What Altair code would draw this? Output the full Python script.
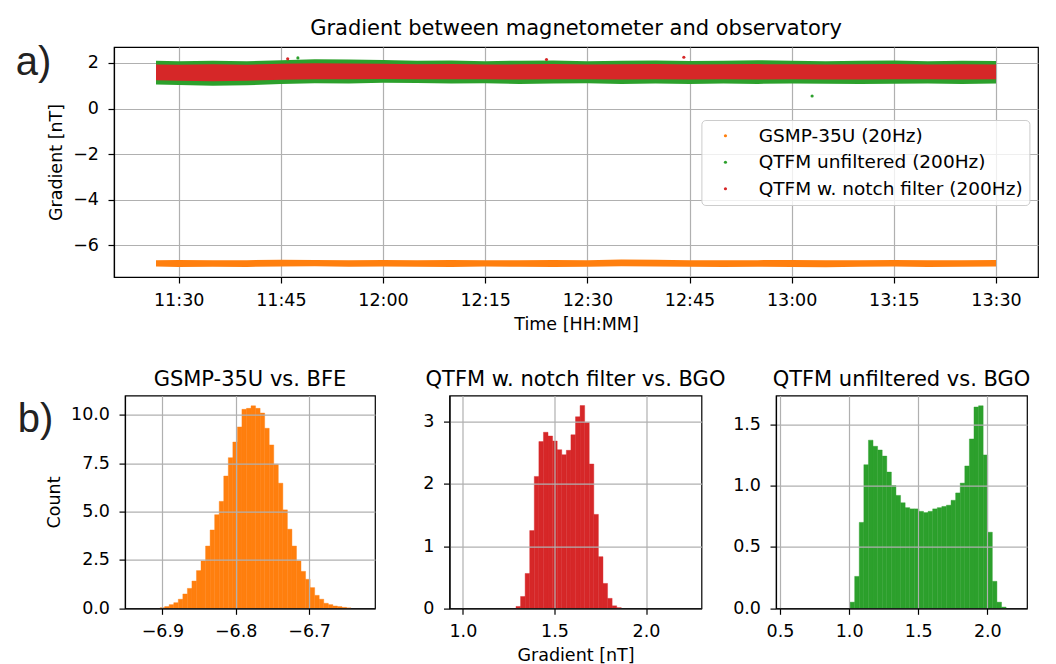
import altair as alt
import pandas as pd

FONT = "DejaVu Sans"
DAY = "2023-05-10T"

S_GSMP = "GSMP-35U (20Hz)"
S_RAW = "QTFM unfiltered (200Hz)"
S_NOTCH = "QTFM w. notch filter (200Hz)"
SERIES = [S_GSMP, S_RAW, S_NOTCH]
COLORS = ["#ff7f0e", "#2ca02c", "#d62728"]

# ---- panel a): envelope (lower / upper edge) of each dense point cloud ----
band_times = ["11:26:40", "11:30:00", "11:35:00", "11:40:00", "11:45:00", "11:50:00",
              "11:55:00", "12:00:00", "12:05:00", "12:10:00", "12:15:00", "12:20:00",
              "12:25:00", "12:30:00", "12:35:00", "12:40:00", "12:45:00", "12:50:00",
              "12:55:00", "13:00:00", "13:05:00", "13:10:00", "13:15:00", "13:20:00",
              "13:25:00", "13:30:00"]
gsmp_hi = [-6.66, -6.64, -6.66, -6.65, -6.63, -6.64, -6.66, -6.64, -6.65, -6.64, -6.66, -6.65,
           -6.64, -6.65, -6.62, -6.63, -6.65, -6.66, -6.65, -6.64, -6.66, -6.65, -6.64, -6.66,
           -6.65, -6.64]
gsmp_lo = [-6.93, -6.95, -6.94, -6.95, -6.93, -6.92, -6.94, -6.93, -6.94, -6.95, -6.93, -6.94,
           -6.95, -6.94, -6.92, -6.93, -6.94, -6.95, -6.94, -6.95, -6.96, -6.94, -6.93, -6.95,
           -6.94, -6.93]
raw_hi = [2.10, 2.08, 2.10, 2.07, 2.12, 2.16, 2.15, 2.13, 2.10, 2.11, 2.08, 2.10,
          2.11, 2.08, 2.10, 2.11, 2.09, 2.10, 2.12, 2.10, 2.08, 2.10, 2.11, 2.08,
          2.10, 2.09]
raw_lo = [1.06, 1.03, 1.00, 1.02, 1.08, 1.11, 1.10, 1.13, 1.12, 1.10, 1.11, 1.08,
          1.10, 1.11, 1.08, 1.10, 1.08, 1.10, 1.08, 1.10, 1.09, 1.08, 1.09, 1.10,
          1.08, 1.10]
notch_hi = [1.93, 1.92, 1.94, 1.92, 1.96, 1.99, 1.98, 1.96, 1.94, 1.95, 1.93, 1.94,
            1.95, 1.93, 1.94, 1.95, 1.93, 1.94, 1.95, 1.94, 1.93, 1.94, 1.95, 1.93,
            1.94, 1.93]
notch_lo = [1.24, 1.22, 1.20, 1.22, 1.26, 1.29, 1.28, 1.30, 1.29, 1.28, 1.29, 1.27,
            1.28, 1.29, 1.27, 1.28, 1.27, 1.28, 1.27, 1.28, 1.27, 1.27, 1.28, 1.28,
            1.27, 1.28]

# isolated points outside the clouds
out_times = ["11:46:00", "11:47:30", "12:24:00", "12:44:10", "13:03:00", "13:03:10"]
out_vals = [2.18, 2.22, 2.15, 2.25, 0.55, 1.85]
out_series = [S_NOTCH, S_RAW, S_NOTCH, S_NOTCH, S_RAW, S_NOTCH]

time_ticks = ["11:30", "11:45", "12:00", "12:15", "12:30", "12:45", "13:00", "13:15", "13:30"]

# ---- panel b): histograms (bin start, bin width, heights) ----
gsmp_bin0, gsmp_binw = -6.9031, 0.0062
gsmp_counts = [0.03, 0.09, 0.19, 0.29, 0.47, 0.74, 1.03, 1.41, 1.95, 2.45, 3.22, 4.05,
               4.84, 5.53, 6.84, 7.79, 8.60, 9.38, 10.29, 10.34, 10.47, 10.34, 10.10,
               9.31, 8.45, 7.45, 6.47, 5.09, 4.09, 3.22, 2.45, 1.91, 1.50, 1.07, 0.67,
               0.47, 0.26, 0.19, 0.12, 0.09, 0.05, 0.02]
notch_bin0, notch_binw = 1.290, 0.025
notch_counts = [0.03, 0.19, 0.56, 1.25, 2.12, 2.68, 2.83, 2.77, 2.69, 2.55, 2.47, 2.54,
                2.79, 3.08, 3.26, 2.99, 2.32, 1.51, 0.83, 0.40, 0.16, 0.04, 0.01]
raw_bin0, raw_binw = 1.007, 0.0332
raw_counts = [0.05, 0.26, 0.70, 1.17, 1.37, 1.32, 1.29, 1.24, 1.11, 1.00, 0.92, 0.86,
              0.82, 0.81, 0.81, 0.79, 0.78, 0.79, 0.81, 0.82, 0.83, 0.84, 0.88, 0.94,
              1.02, 1.16, 1.38, 1.64, 1.65, 1.25, 0.62, 0.22, 0.05, 0.01]


def dt(hms):
    h, m, *s = hms.split(":")
    return alt.DateTime(year=2023, month=5, date=10, hours=int(h), minutes=int(m),
                        seconds=int(s[0]) if s else 0)


color_scale = alt.Scale(domain=SERIES, range=COLORS)
legend = alt.Legend(title=None, orient="none", legendX=587.4, legendY=73,
                    symbolType="circle", symbolSize=10, symbolStrokeWidth=0,
                    symbolOpacity=1, labelFont=FONT, labelFontSize=18.5, labelColor="black",
                    labelLimit=500, padding=6.5, symbolOffset=8.3, labelOffset=24,
                    rowPadding=7.5, fillColor="rgba(255,255,255,0.8)", strokeColor="#cccccc",
                    cornerRadius=4)

x_top = alt.X("t:T",
              scale=alt.Scale(domain=[dt("11:20:30"), dt("13:36:10")]),
              axis=alt.Axis(title="Time [HH:MM]", format="%H:%M",
                            values=[dt(v) for v in time_ticks], labelPadding=8.5,
                            titlePadding=6))
y_top = alt.Y("lo:Q", scale=alt.Scale(domain=[-7.39, 2.70], nice=False, zero=False),
              axis=alt.Axis(title="Gradient [nT]", values=[-6, -4, -2, 0, 2], format="d",
                            labelPadding=9.5, titlePadding=7))

band_frames = []
for name, lo, hi in [(S_GSMP, gsmp_lo, gsmp_hi), (S_RAW, raw_lo, raw_hi),
                     (S_NOTCH, notch_lo, notch_hi)]:
    band_frames.append(pd.DataFrame({"t": [DAY + t for t in band_times], "lo": lo, "hi": hi,
                                     "series": name}))

band_layers = [
    alt.Chart(df).mark_area(interpolate="linear", opacity=1).encode(
        x=x_top, y=y_top, y2="hi:Q",
        color=alt.Color("series:N", scale=color_scale, legend=legend))
    for df in band_frames
]

out_df = pd.DataFrame({"t": [DAY + t for t in out_times], "lo": out_vals, "series": out_series})
point_layers = [
    alt.Chart(out_df[out_df.series == s]).mark_circle(size=10, opacity=1, color=c).encode(
        x=x_top, y=y_top)
    for s, c in zip(SERIES, COLORS)
]

one = pd.DataFrame({"k": [0]})
# invisible layout anchors (kept inside the plot's vertical span so titles are unaffected)
anchor_top_left = alt.Chart(one).mark_rect(opacity=0).encode(
    x=alt.value(-105.3), x2=alt.value(-104), y=alt.value(100), y2=alt.value(101))
anchor_top_bottom = alt.Chart(one).mark_rect(opacity=0).encode(
    x=alt.value(100), x2=alt.value(101), y=alt.value(299), y2=alt.value(300))
label_a = alt.Chart(one).mark_text(text="a)", font="Liberation Sans", fontSize=40,
                                   align="left", baseline="alphabetic", color="#222222").encode(
    x=alt.value(-98.3), y=alt.value(27.6))

top = alt.layer(anchor_top_left, anchor_top_bottom, *band_layers, *point_layers,
                label_a).properties(
    width=924, height=230,
    title=alt.TitleParams("Gradient between magnetometer and observatory", offset=3.6,
                          frame="group"))


def hist_df(b0, bw, counts):
    x0 = [b0 + i * bw for i in range(len(counts))]
    return pd.DataFrame({"x0": x0, "x1": [v + bw for v in x0], "c": counts})


def hist_panel(df, color, xdom, xticks, xfmt, ydom, yticks, yfmt, title, xtitle, ytitle, w,
               extra=()):
    bars = alt.Chart(df).mark_rect(color=color, stroke=color, strokeWidth=0.4).encode(
        x=alt.X("x0:Q", scale=alt.Scale(domain=xdom, nice=False, zero=False),
                axis=alt.Axis(values=xticks, format=xfmt, title=xtitle, zindex=1,
                              labelPadding=8.5, titlePadding=6)),
        x2="x1:Q",
        y=alt.Y("c:Q", scale=alt.Scale(domain=ydom, nice=False, zero=False),
                axis=alt.Axis(values=yticks, format=yfmt, title=ytitle, zindex=1,
                              labelPadding=9.5, titlePadding=7)),
        y2=alt.datum(0))
    return alt.layer(*extra, bars).properties(
        width=w, height=212.7, title=alt.TitleParams(title, offset=6, frame="group"))


anchor_bot = alt.Chart(one).mark_rect(opacity=0).encode(
    x=alt.value(-116.3), x2=alt.value(-115), y=alt.value(100), y2=alt.value(101))
label_b = alt.Chart(one).mark_text(text="b)", font="Liberation Sans", fontSize=40,
                                   align="left", baseline="alphabetic", color="#222222").encode(
    x=alt.value(-107.3), y=alt.value(36.7))

p1 = hist_panel(hist_df(gsmp_bin0, gsmp_binw, gsmp_counts), COLORS[0], [-6.951, -6.610],
                [-6.9, -6.8, -6.7], ".1f", [0, 11.0], [0, 2.5, 5, 7.5, 10], ".1f",
                "GSMP-35U vs. BFE", None, "Count", 250, extra=(anchor_bot, label_b))
p2 = hist_panel(hist_df(notch_bin0, notch_binw, notch_counts), COLORS[2], [0.927, 2.303],
                [1.0, 1.5, 2.0], ".1f", [0, 3.42], [0, 1, 2, 3], "d",
                "QTFM w. notch filter vs. BGO", "Gradient [nT]", None, 252)
p3 = hist_panel(hist_df(raw_bin0, raw_binw, raw_counts), COLORS[1], [0.471, 2.287],
                [0.5, 1.0, 1.5, 2.0], ".1f", [0, 1.733], [0, 0.5, 1.0, 1.5], ".1f",
                "QTFM unfiltered vs. BGO", None, None, 251)

# small invisible spacer shifts the histogram row 11 px right of the upper plot
spacer = alt.Chart(one).mark_rect(opacity=0).encode(
    x=alt.value(0), x2=alt.value(1), y=alt.value(0), y2=alt.value(1)
).properties(width=1, height=1, view=alt.ViewBackground(stroke="transparent"))

hist_row = alt.hconcat(p1, p2, p3, spacing=74.5, bounds="flush")
bottom = alt.hconcat(spacer, hist_row, spacing=10, bounds="flush")

chart = alt.concat(top, bottom, columns=1, align="none", spacing=19.6).properties(
    padding={"left": 0, "top": 9, "right": 0, "bottom": 0}
).configure_view(
    stroke="black", strokeWidth=1.2
).configure_axis(
    labelFont=FONT, titleFont=FONT, labelFontSize=17.5, titleFontSize=17.5,
    titleFontWeight="normal", labelColor="black", titleColor="black",
    tickColor="black", domainColor="black", tickSize=6, tickWidth=1.2, domainWidth=1.2,
    gridColor="#b0b0b0", gridWidth=1.2
).configure_title(
    font=FONT, fontSize=21, fontWeight="normal", color="black", anchor="middle"
)

chart.save("out.html", embed_options={"renderer": "svg", "actions": False})
